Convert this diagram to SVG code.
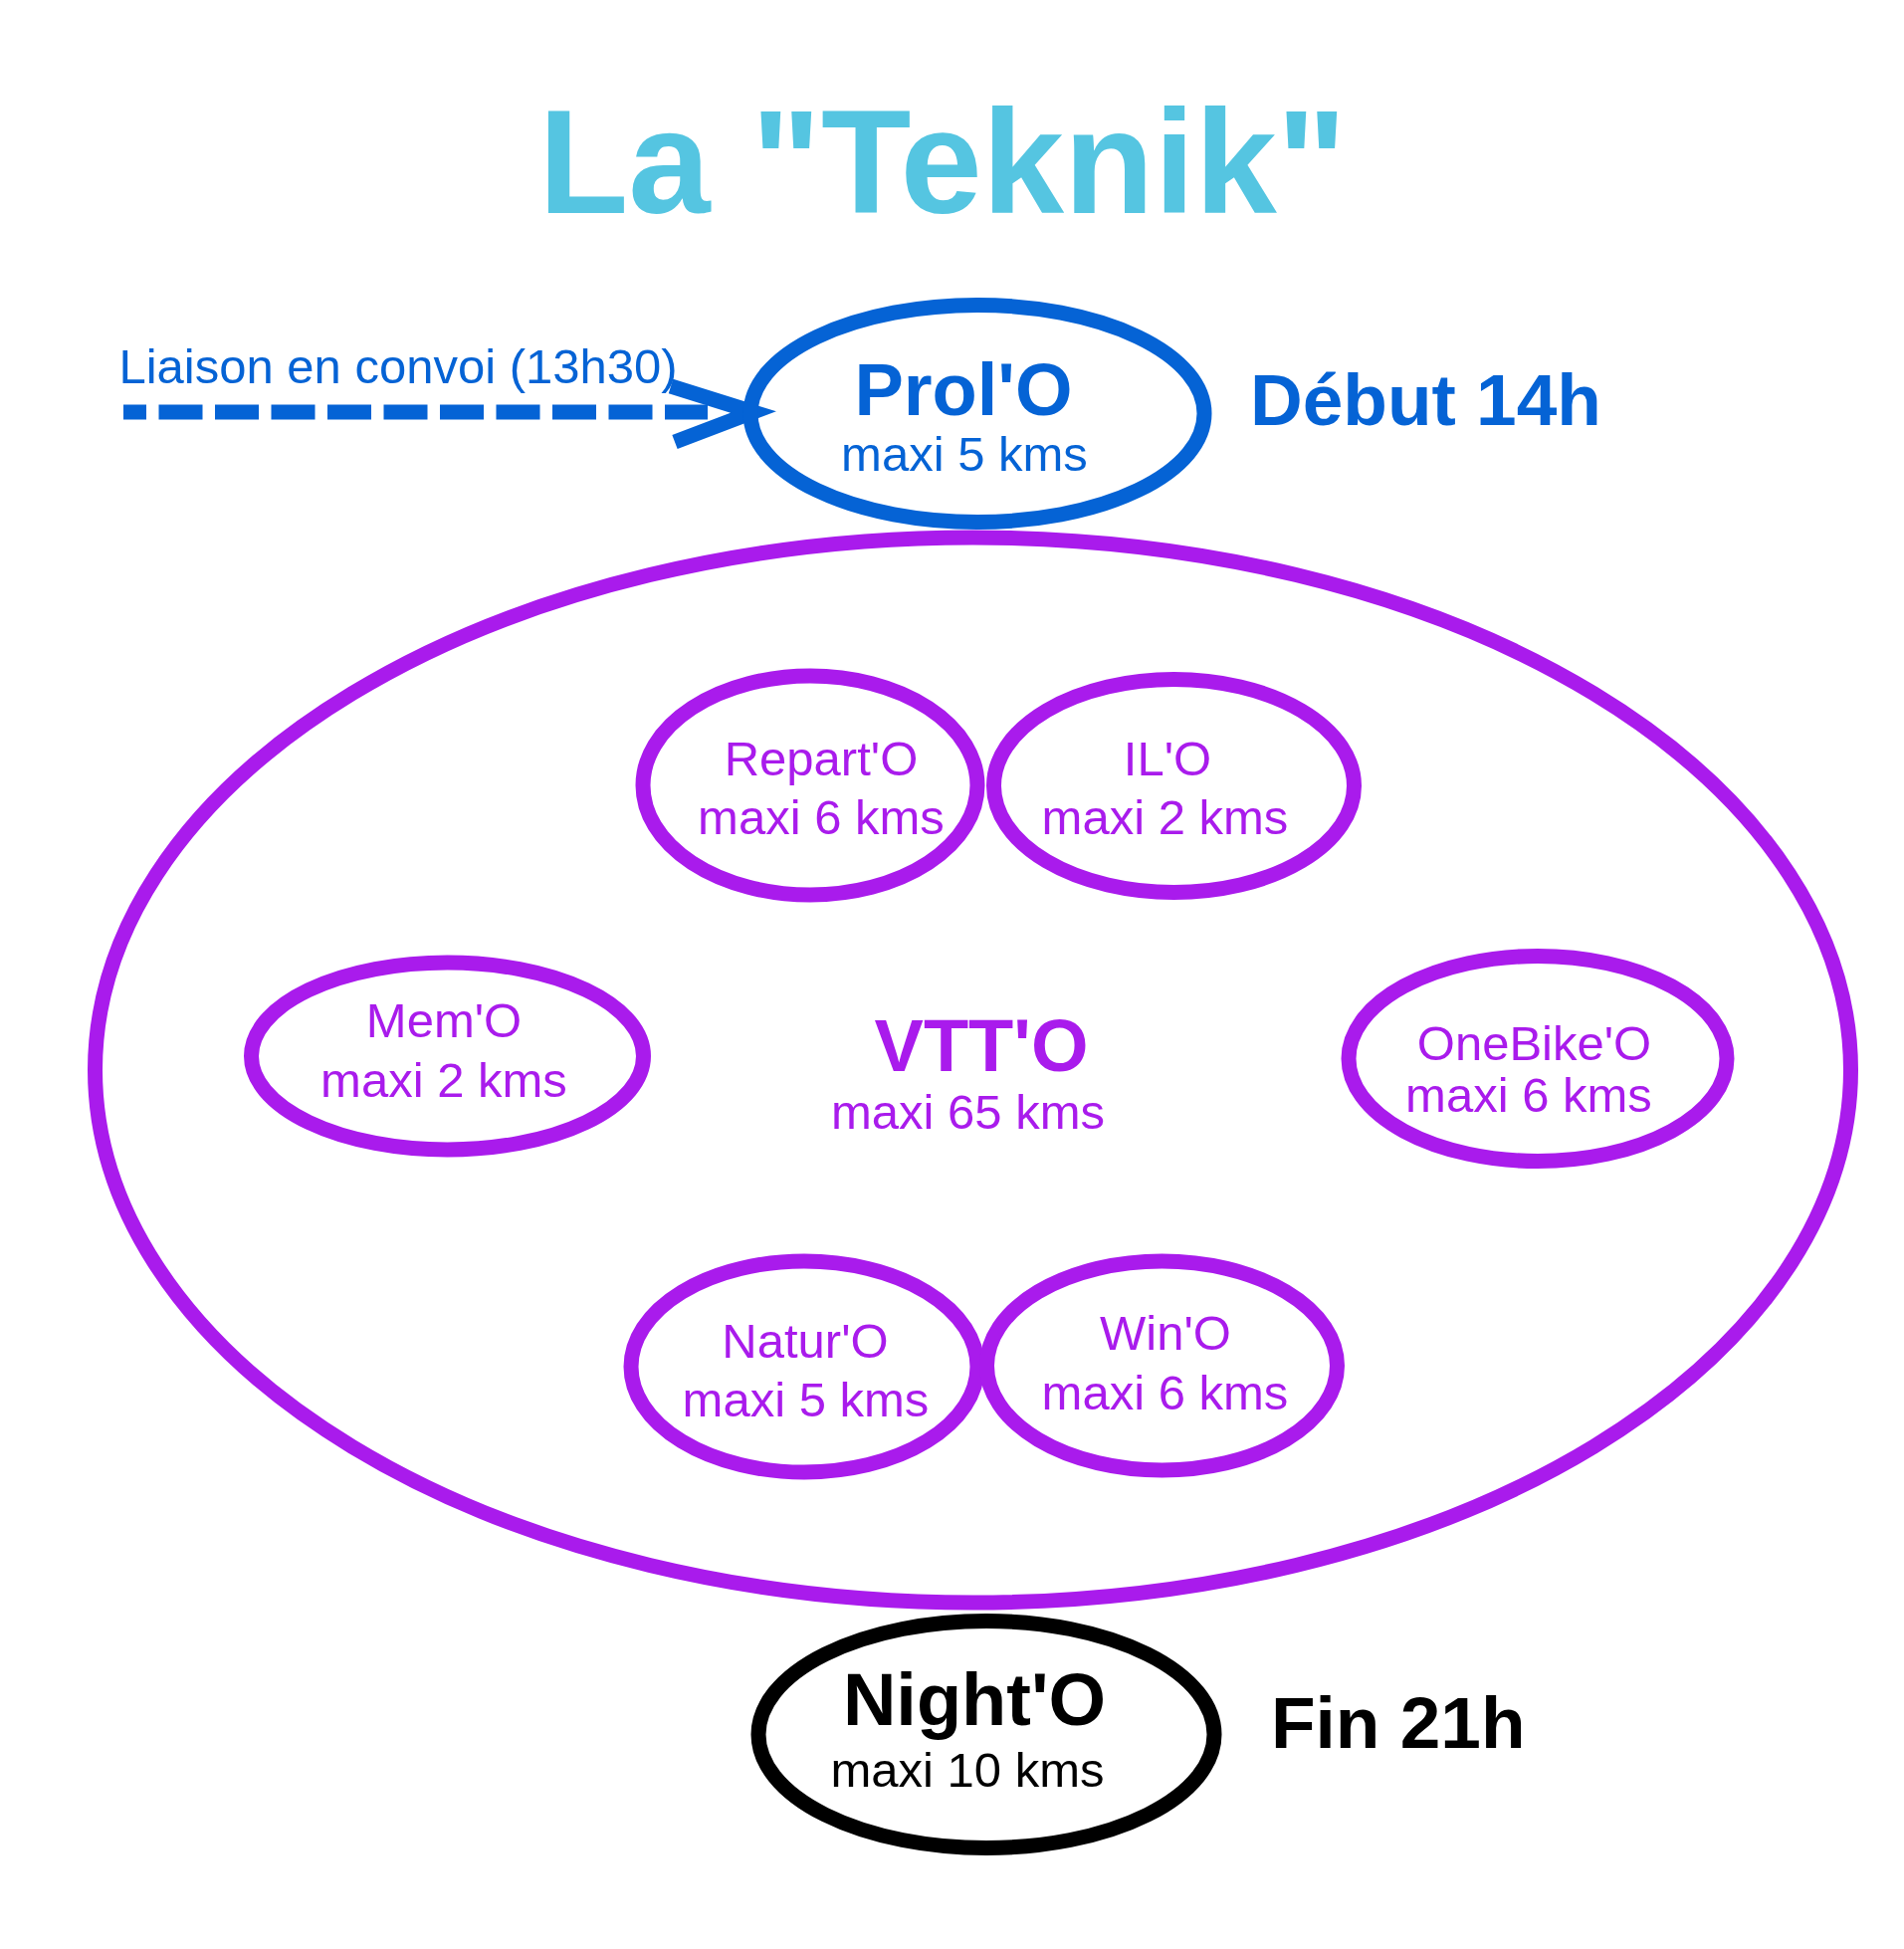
<svg xmlns="http://www.w3.org/2000/svg" width="1913" height="1958" viewBox="0 0 1913 1958">
<style>
text{font-family:"Liberation Sans",Arial,Helvetica,sans-serif;text-anchor:middle}
.b{font-weight:bold}
.n{font-size:49px}
.big{font-size:74px;font-weight:bold}
.blue{fill:#0563D5}
.purp{fill:#A91BEC}
.blk{fill:#000}
.ring{fill:none;stroke-width:15}
.pr{stroke:#A91BEC}
</style>
<rect width="1913" height="1958" fill="#fff"/>
<text id="title" x="947" y="214" class="b" style="font-size:148px;fill:#55C5E1">La "Teknik"</text>

<g id="connectors">
<line x1="124" y1="414" x2="711" y2="414" stroke="#0563D5" stroke-width="15" stroke-dasharray="44 12.5" stroke-dashoffset="21"/>
<polyline points="674,388 757,414 678,444" fill="none" stroke="#0563D5" stroke-width="15" stroke-linejoin="miter"/>
<text x="400" y="385" class="n blue">Liaison en convoi (13h30)</text>
</g>

<g id="prolo">
<ellipse cx="982" cy="415.5" rx="228" ry="109" class="ring" stroke="#0563D5"/>
<text x="968" y="417" class="big blue">Prol'O</text>
<text x="969" y="473" class="n blue">maxi 5 kms</text>
</g>
<text id="debut" x="1256" y="427" class="b blue" style="font-size:73px;text-anchor:start">Début 14h</text>

<g id="vtto">
<ellipse cx="977.5" cy="1075" rx="882" ry="535" class="ring pr" stroke-width="14"/>
<text x="986" y="1076" class="big purp">VTT'O</text>
<text x="972.5" y="1134" class="n purp">maxi 65 kms</text>
</g>

<g id="repart">
<ellipse cx="814" cy="789" rx="168" ry="110" class="ring pr"/>
<text x="825" y="779" class="n purp">Repart'O</text>
<text x="825" y="838" class="n purp">maxi 6 kms</text>
</g>

<g id="ilo">
<ellipse cx="1179.5" cy="789.5" rx="181" ry="107" class="ring pr"/>
<text x="1173" y="779" class="n purp">IL'O</text>
<text x="1170.5" y="838" class="n purp">maxi 2 kms</text>
</g>

<g id="memo">
<ellipse cx="449.5" cy="1061" rx="197" ry="94" class="ring pr"/>
<text x="446" y="1042" class="n purp">Mem'O</text>
<text x="446" y="1102" class="n purp">maxi 2 kms</text>
</g>

<g id="onebike">
<ellipse cx="1545" cy="1063.5" rx="190" ry="103" class="ring pr"/>
<text x="1541.5" y="1065" class="n purp">OneBike'O</text>
<text x="1536" y="1117" class="n purp">maxi 6 kms</text>
</g>

<g id="naturo">
<ellipse cx="808" cy="1373" rx="174" ry="106" class="ring pr"/>
<text x="809" y="1364" class="n purp">Natur'O</text>
<text x="809.5" y="1423" class="n purp">maxi 5 kms</text>
</g>

<g id="wino">
<ellipse cx="1167.5" cy="1372" rx="176" ry="105" class="ring pr"/>
<text x="1171" y="1356" class="n purp">Win'O</text>
<text x="1170.5" y="1416" class="n purp">maxi 6 kms</text>
</g>

<g id="nighto">
<ellipse cx="991" cy="1742.5" rx="229" ry="114" class="ring" stroke="#000" stroke-width="16"/>
<text x="979" y="1733" class="big blk">Night'O</text>
<text x="972" y="1795" class="n blk">maxi 10 kms</text>
</g>
<text id="fin" x="1277" y="1756" class="b blk" style="font-size:73px;text-anchor:start">Fin 21h</text>
</svg>
